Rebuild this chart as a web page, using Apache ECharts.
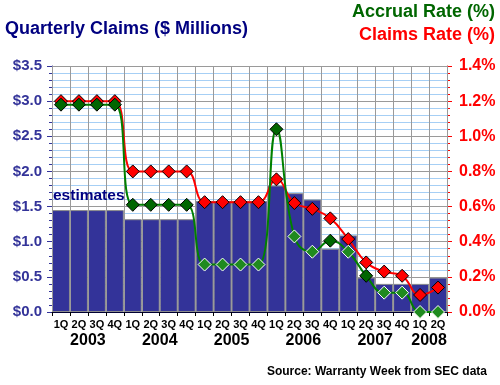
<!DOCTYPE html>
<html>
<head>
<meta charset="utf-8">
<script src="https://cdn.jsdelivr.net/npm/echarts@6/dist/echarts.min.js"></script>
<style>
html,body{margin:0;padding:0;background:#fff;}
#chart{width:500px;height:385px;}
</style>
</head>
<body>
<div id="chart"></div>
<script>
const quarters = ['1Q','2Q','3Q','4Q','1Q','2Q','3Q','4Q','1Q','2Q','3Q','4Q','1Q','2Q','3Q','4Q','1Q','2Q','3Q','4Q','1Q','2Q'];
const years = {2:'2003', 6:'2004', 10:'2005', 14:'2006', 18:'2007', 21:'2008'};
const claims = [1.45,1.45,1.45,1.45, 1.32,1.32,1.32,1.32, 1.58,1.58,1.58,1.58, 1.80,1.69,1.60,0.90, 1.09,0.49,0.40,0.40, 0.40,0.49];
const claimsRate = [1.20,1.20,1.20,1.20, 0.80,0.80,0.80,0.80, 0.625,0.625,0.625,0.625, 0.755,0.62,0.587,0.533, 0.415,0.282,0.23,0.206, 0.097,0.139];
const accrualRate = [1.18,1.18,1.18,1.18, 0.61,0.61,0.61,0.61, 0.27,0.27,0.27,0.27, 1.04,0.43,0.343,0.406, 0.343,0.206,0.11,0.11, 0.0,0.0];
const leftTicks = {min:0, max:3.5, interval:0.5};
const rightTicks = {min:0, max:1.4, interval:0.2};

const FONT = 'Liberation Sans, Arial, sans-serif';
const chart = echarts.init(document.getElementById('chart'), null, {renderer:'canvas'});

// green markers: black border when above the bar, white border when inside bar
const accrualData = accrualRate.map((v, i) => {
  const inside = (v / 1.4) < (claims[i] / 3.5);
  return {
    value: v,
    itemStyle: inside
      ? {color:'#1f8a1f', borderColor:'#ffffff', borderWidth:1}
      : {color:'#006600', borderColor:'#000000', borderWidth:1}
  };
});

chart.setOption({
  animation:false,
  backgroundColor:'#ffffff',
  grid:{left:52, right:53, top:66, bottom:73, containLabel:false},
  xAxis:[{
    type:'category',
    data:quarters,
    boundaryGap:true,
    axisLine:{show:true, lineStyle:{color:'#000033', width:1}},
    axisTick:{show:true, interval:0, alignWithLabel:false, length:4, lineStyle:{color:'#000000'}},
    axisLabel:{interval:0, margin:7, color:'#000000', fontFamily:FONT, fontWeight:'bold', fontSize:11},
    splitLine:{show:true, interval:0, lineStyle:{color:'#9a9a9a', width:1}},
    z:3
  },{
    type:'value',
    min:0, max:22, interval:1,
    position:'bottom',
    axisLine:{show:false}, axisTick:{show:false}, splitLine:{show:false},
    axisLabel:{
      margin:21, color:'#000000', fontFamily:FONT, fontWeight:'bold', fontSize:16,
      showMinLabel:true, showMaxLabel:true,
      formatter: v => years[v] || ''
    }
  }],
  yAxis:[{
    type:'value',
    min:leftTicks.min, max:leftTicks.max, interval:leftTicks.interval,
    position:'left',
    axisLine:{show:true, lineStyle:{color:'#333399', width:1}},
    axisTick:{show:true, length:5, lineStyle:{color:'#333399'}},
    minorTick:{show:true, splitNumber:5, length:3, lineStyle:{color:'#333399'}},
    axisLabel:{margin:10, color:'#333399', fontFamily:FONT, fontWeight:'bold', fontSize:15,
      formatter: v => '$' + v.toFixed(1)},
    splitLine:{show:true, lineStyle:{color:'#9a9a9a', width:1}},
    minorSplitLine:{show:true, lineStyle:{color:'#a6cff5', width:1}}
  },{
    type:'value',
    min:rightTicks.min, max:rightTicks.max, interval:rightTicks.interval,
    position:'right',
    axisLine:{show:true, lineStyle:{color:'#ff0000', width:1}},
    axisTick:{show:true, length:5, lineStyle:{color:'#ff0000'}},
    minorTick:{show:true, splitNumber:5, length:3, lineStyle:{color:'#ff0000'}},
    axisLabel:{margin:12, color:'#ff0000', fontFamily:FONT, fontWeight:'bold', fontSize:16,
      formatter: v => v.toFixed(1) + '%'},
    splitLine:{show:false}
  }],
  series:[{
    type:'bar',
    name:'Claims',
    data:claims,
    xAxisIndex:0, yAxisIndex:0,
    barWidth:'100%', barGap:'0%', barCategoryGap:'0%',
    itemStyle:{color:'#333399', borderColor:'#8c8c8c', borderWidth:1},
    z:2
  },{
    type:'line',
    name:'Claims Rate (%)',
    data:claimsRate,
    xAxisIndex:0, yAxisIndex:1,
    smooth:0.45,
    symbol:'diamond', symbolSize:13,
    lineStyle:{color:'#ff0000', width:2},
    itemStyle:{color:'#ff0000', borderColor:'#000000', borderWidth:1},
    z:4
  },{
    type:'line',
    name:'Accrual Rate (%)',
    data:accrualData,
    xAxisIndex:0, yAxisIndex:1,
    smooth:0.45,
    symbol:'diamond', symbolSize:13,
    lineStyle:{color:'#008000', width:2},
    itemStyle:{color:'#006600'},
    z:5
  }],
  graphic:[
    {type:'text', left:5, top:20, style:{text:'Quarterly Claims ($ Millions)', fill:'#000080', font:'bold 18px ' + FONT}},
    {type:'text', right:5, top:3, style:{text:'Accrual Rate (%)', fill:'#006600', font:'bold 18px ' + FONT}},
    {type:'text', right:5, top:26, style:{text:'Claims Rate (%)', fill:'#ff0000', font:'bold 18px ' + FONT}},
    {type:'text', left:53, top:188, z:10, style:{text:'estimates', fill:'#000080', font:'bold 15.5px ' + FONT}},
    {type:'text', right:13, top:366, style:{text:'Source: Warranty Week from SEC data', fill:'#000000', font:'bold 12px ' + FONT}}
  ]
});
</script>
</body>
</html>
